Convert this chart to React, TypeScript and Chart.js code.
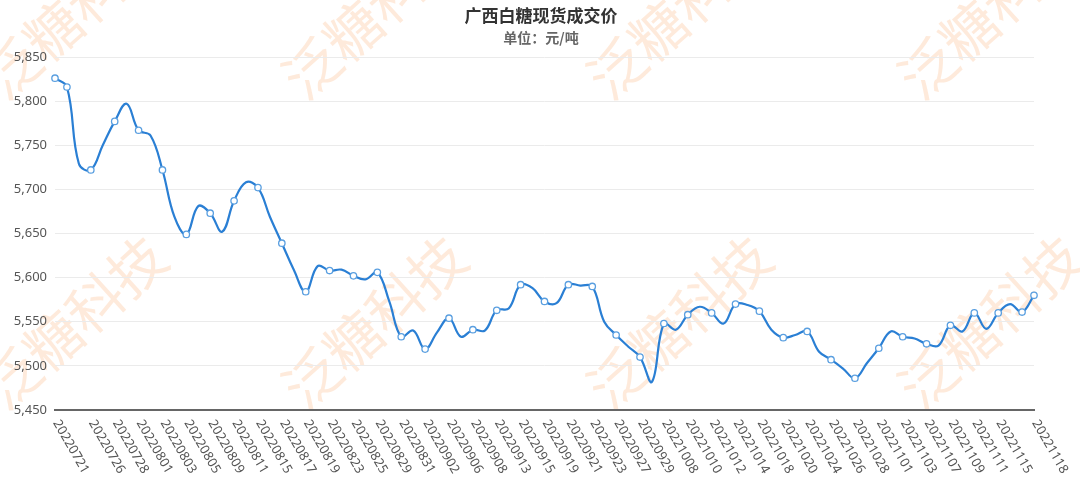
import React, { useEffect, useRef } from "react";
import { Chart, registerables } from "chart.js";

Chart.register(...registerables);

const dates: string[] = [
  "20220721", "20220722", "20220725", "20220726", "20220727", "20220728", "20220729",
  "20220801", "20220802", "20220803", "20220804", "20220805", "20220808", "20220809",
  "20220810", "20220811", "20220812", "20220815", "20220816", "20220817", "20220818",
  "20220819", "20220822", "20220823", "20220824", "20220825", "20220826", "20220829",
  "20220830", "20220831", "20220901", "20220902", "20220905", "20220906", "20220907",
  "20220908", "20220909", "20220913", "20220914", "20220915", "20220916", "20220919",
  "20220920", "20220921", "20220922", "20220923", "20220926", "20220927", "20220928",
  "20220929", "20220930", "20221008", "20221009", "20221010", "20221011", "20221012",
  "20221013", "20221014", "20221017", "20221018", "20221019", "20221020", "20221021",
  "20221024", "20221025", "20221026", "20221027", "20221028", "20221031", "20221101",
  "20221102", "20221103", "20221104", "20221107", "20221108", "20221109", "20221110",
  "20221111", "20221114", "20221115", "20221116", "20221117", "20221118",
];

const prices: number[] = [
  5826, 5816, 5729, 5722, 5750, 5777, 5797,
  5767, 5761, 5722, 5669, 5649, 5681, 5673,
  5652, 5687, 5708, 5702, 5669, 5639, 5609,
  5584, 5613, 5608, 5609, 5602, 5598, 5606,
  5573, 5533, 5540, 5519, 5538, 5554, 5533,
  5541, 5540, 5563, 5565, 5592, 5588, 5573,
  5571, 5592, 5591, 5590, 5550, 5535, 5522,
  5510, 5482, 5548, 5541, 5558, 5567, 5560,
  5548, 5570, 5569, 5562, 5541, 5532, 5535,
  5539, 5516, 5507, 5497, 5486, 5503, 5520,
  5539, 5533, 5531, 5525, 5523, 5546, 5539,
  5560, 5542, 5560, 5570, 5561, 5580,
];

const yMin = 5450;
const yMax = 5850;
const yStep = 50;

const titleText = "广西白糖现货成交价";
const subtitleText = "单位：元/吨";
const watermarkText = "泛糖科技";

const N = dates.length;
const isMarker = (i: number) => i === 0 || i === 1 || i === N - 1 || i === N - 2 || i % 2 === 1;
const isLabel = (i: number) => i === 0 || i === N - 1 || (i % 2 === 1 && i > 1 && i < N - 2);

export default function App() {
  const ref = useRef<HTMLCanvasElement>(null);

  useEffect(() => {
    if (!ref.current) return;

    const decor = {
      id: "decor",
      beforeDraw(chart: any) {
        const ctx = chart.ctx;
        ctx.save();
        ctx.fillStyle = "#ffffff";
        ctx.fillRect(0, 0, chart.width, chart.height);
        ctx.font = '56px "Noto Sans CJK SC"';
        ctx.fillStyle = "rgba(250,160,90,0.22)";
        ctx.textAlign = "left";
        ctx.textBaseline = "middle";
        const ang = (-42 * Math.PI) / 180;
        for (const cy of [68, 378]) {
          for (const cx of [12, 312, 617, 928]) {
            ctx.save();
            ctx.translate(cx - 21, cy + 19);
            ctx.rotate(ang);
            ctx.fillText(watermarkText, 0, 0);
            ctx.restore();
          }
        }
        ctx.restore();
      },
      afterDraw(chart: any) {
        const ctx = chart.ctx;
        const xs = chart.scales.x;
        const area = chart.chartArea;
        ctx.save();
        ctx.textAlign = "center";
        ctx.textBaseline = "middle";
        ctx.fillStyle = "#333333";
        ctx.font = 'bold 17px "Noto Sans CJK SC"';
        ctx.fillText(titleText, 541, 16);
        ctx.fillStyle = "#666666";
        ctx.font = 'bold 14px "Noto Sans CJK SC"';
        ctx.fillText(subtitleText, 541, 38);

        ctx.font = '13px "Noto Sans"';
        ctx.fillStyle = "#555555";
        ctx.textAlign = "left";
        ctx.textBaseline = "middle";
        for (let i = 0; i < N; i++) {
          if (!isLabel(i)) continue;
          const x = xs.getPixelForValue(i);
          ctx.save();
          ctx.translate(x + 1, area.bottom + 11);
          ctx.rotate((60 * Math.PI) / 180);
          ctx.fillText(dates[i], 0, 0);
          ctx.restore();
        }
        ctx.restore();
      },
    };

    const chart = new Chart(ref.current, {
      type: "line",
      data: {
        labels: dates,
        datasets: [
          {
            data: prices,
            borderColor: "#2a7fd4",
            borderWidth: 2.2,
            tension: 0.4,
            pointRadius: prices.map((_, i) => (isMarker(i) ? 3.2 : 0)),
            pointBackgroundColor: "#ffffff",
            pointBorderColor: "#5a9fe0",
            pointBorderWidth: 1.3,
            fill: false,
          },
        ],
      },
      options: {
        responsive: false,
        animation: false,
        devicePixelRatio: 1,
        layout: { padding: { top: 57, right: 46, bottom: 81, left: 0 } },
        plugins: {
          legend: { display: false },
          tooltip: { enabled: false },
          title: { display: false },
        },
        scales: {
          x: {
            type: "category",
            offset: false,
            grid: { display: false, drawTicks: false },
            border: { display: true, color: "#666666", width: 2 },
            ticks: { display: false },
          },
          y: {
            min: yMin,
            max: yMax,
            ticks: {
              stepSize: yStep,
              padding: 8,
              color: "#555555",
              font: { family: "Noto Sans", size: 13 },
              callback: (v: any) => Number(v).toLocaleString("en-US"),
            },
            grid: { color: "#ebebeb", drawTicks: false },
            border: { display: false },
            afterFit: (s: any) => {
              s.width = 55;
            },
          },
        },
      },
      plugins: [decor],
    });

    return () => chart.destroy();
  }, []);

  return (
    <div style={{ position: "absolute", left: 0, top: 0, width: 1080, height: 491, background: "#fff" }}>
      <canvas ref={ref} width={1080} height={491} style={{ display: "block" }} />
    </div>
  );
}
